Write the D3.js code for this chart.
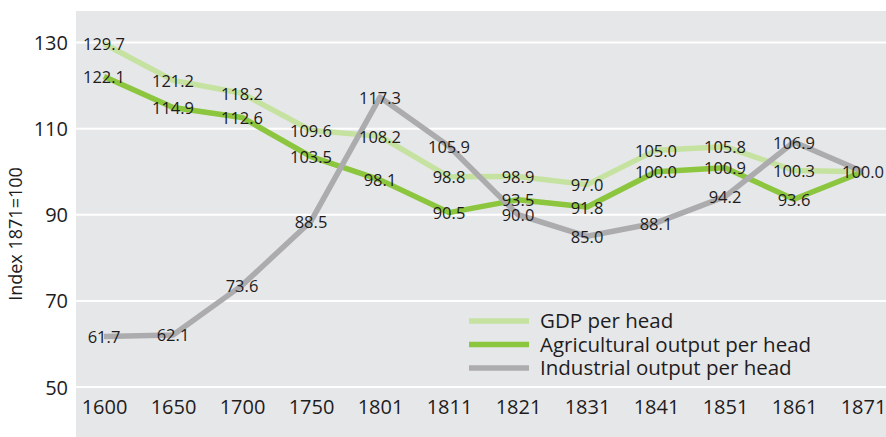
<!DOCTYPE html>
<html>
<head>
<meta charset="utf-8">
<script src="https://cdn.jsdelivr.net/npm/d3@7"></script>
<style>
  body { margin: 0; background: #fff; }
  svg text { font-family: "Open Sans", Lato, sans-serif; fill: #1e1c1d; }
</style>
</head>
<body>
<svg id="chart" width="886" height="437"></svg>
<script>
// categories (years)
var years = ['1600', '1650', '1700', '1750', '1801', '1811', '1821', '1831', '1841', '1851', '1861', '1871'];

// series values, index 1871 = 100
var gdpPerHead = [129.7, 121.2, 118.2, 109.6, 108.2, 98.8, 98.9, 97.0, 105.0, 105.8, 100.3, 100.0];
var agriPerHead = [122.1, 114.9, 112.6, 103.5, 98.1, 90.5, 93.5, 91.8, 100.0, 100.9, 93.6, 100.0];
var indPerHead = [61.7, 62.1, 73.6, 88.5, 117.3, 105.9, 90.0, 85.0, 88.1, 94.2, 106.9, 100.0];

var yTicks = [50, 70, 90, 110, 130];

var seriesNames = ['GDP per head', 'Agricultural output per head', 'Industrial output per head'];
var seriesColors = ['#c6e2a1', '#8cc63f', '#acacae'];

var series = [
    { name: seriesNames[0], color: seriesColors[0], values: gdpPerHead },
    { name: seriesNames[1], color: seriesColors[1], values: agriPerHead },
    { name: seriesNames[2], color: seriesColors[2], values: indPerHead }
];

var svg = d3.select('#chart'),
    plot = { left: 76, top: 11, right: 886, bottom: 437 };

var x = d3.scalePoint()
    .domain(years)
    .range([104, 863]);

var y = d3.scaleLinear()
    .domain([50, 130])
    .range([387, 42.5]);

// plot background
svg.append('rect')
    .attr('x', plot.left)
    .attr('y', plot.top)
    .attr('width', plot.right - plot.left)
    .attr('height', plot.bottom - plot.top)
    .attr('fill', '#e6e7e9');

// gridlines
svg.append('g')
    .selectAll('line')
    .data(yTicks)
    .enter().append('line')
    .attr('x1', plot.left)
    .attr('x2', plot.right)
    .attr('y1', function(d) { return y(d); })
    .attr('y2', function(d) { return y(d); })
    .attr('stroke', '#fff')
    .attr('stroke-width', 2);

// y axis
var yAxis = d3.axisLeft(y).tickValues(yTicks).tickSize(0).tickPadding(0);
var gy = svg.append('g')
    .attr('transform', 'translate(68,0)')
    .call(yAxis);
gy.select('.domain').remove();
gy.selectAll('text')
    .style('font-size', '20px')
    .attr('dy', '0.35em');

// x axis
var xAxis = d3.axisBottom(x).tickSize(0).tickPadding(0);
var gx = svg.append('g')
    .attr('transform', 'translate(0,400)')
    .call(xAxis);
gx.select('.domain').remove();
gx.selectAll('text')
    .style('font-size', '20px')
    .attr('dy', '0.71em');

// y axis title
svg.append('text')
    .attr('transform', 'translate(22,234) rotate(-90)')
    .attr('text-anchor', 'middle')
    .style('font-size', '18px')
    .text('Index 1871=100');

// lines
var line = d3.line()
    .x(function(d, i) { return x(years[i]); })
    .y(function(d) { return y(d); });

svg.append('g')
    .selectAll('path')
    .data(series)
    .enter().append('path')
    .attr('d', function(s) { return line(s.values); })
    .attr('fill', 'none')
    .attr('stroke', function(s) { return s.color; })
    .attr('stroke-width', 5.5)
    .attr('stroke-linejoin', 'round');

// value labels (the shared 1871 = 100 point is labelled once)
series.forEach(function(s, si) {
    svg.append('g')
        .selectAll('text')
        .data(s.values.filter(function(d, i) { return si === 0 || i < years.length - 1; }))
        .enter().append('text')
        .attr('x', function(d, i) { return x(years[i]); })
        .attr('y', function(d) { return y(d); })
        .attr('dy', '0.4em')
        .attr('text-anchor', 'middle')
        .style('font-size', '16.5px')
        .text(function(d) { return d.toFixed(1); });
});

// legend
var legend = svg.append('g')
    .attr('transform', 'translate(469,321)');

var items = legend.selectAll('g')
    .data(series)
    .enter().append('g')
    .attr('transform', function(d, i) { return 'translate(0,' + (i * 23.5) + ')'; });

items.append('line')
    .attr('x1', 0)
    .attr('x2', 60)
    .attr('stroke', function(d) { return d.color; })
    .attr('stroke-width', 5.5);

items.append('text')
    .attr('x', 71)
    .attr('dy', '0.35em')
    .style('font-size', '20.5px')
    .text(function(d) { return d.name; });
</script>
</body>
</html>
